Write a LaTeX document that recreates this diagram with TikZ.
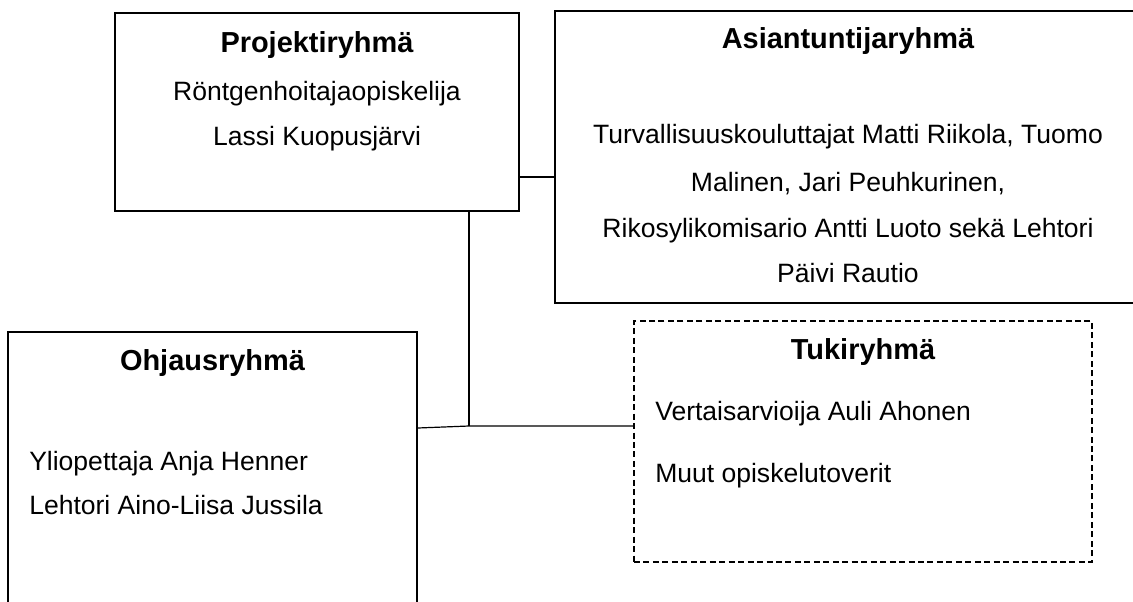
\documentclass[tikz,border=0pt]{standalone}
\usepackage{fontspec}
\setmainfont{Liberation Sans}
\usepackage{tikz}
\usetikzlibrary{positioning}

\tikzset{
  grpbox/.style={draw, rectangle, inner sep=0pt},
  grptitle/.style={font=\bfseries\fontsize{21.7}{26}\selectfont, anchor=base, inner sep=0pt},
  grptext/.style={font=\fontsize{19.9}{24}\selectfont, anchor=base, inner sep=0pt},
  grptextleft/.style={grptext, anchor=base west},
  link/.style={line width=0.9pt}
}

\begin{document}
\begin{tikzpicture}[x=0.75pt,y=0.75pt,yscale=-1,xscale=1]
\useasboundingbox (0,0) rectangle (1133,601);

%Shape: Rectangle [id:proj]
\node (proj) [grpbox, line width=1.6pt, minimum width=303pt, minimum height=148.5pt] at (317,112) {};
%Shape: Rectangle [id:asi]
\node (asi) [grpbox, line width=1.2pt, minimum width=439.5pt, minimum height=219pt] at (848,157) {};
%Shape: Rectangle [id:ohj]
\node (ohj) [grpbox, line width=1.1pt, minimum width=306.75pt, minimum height=216pt] at (212.5,476) {};
%Shape: Rectangle [id:tuk]
\node (tuk) [grpbox, line width=0.9pt, dash pattern=on 4.5pt off 2.6pt, minimum width=343.5pt, minimum height=180.75pt] at (863,441.5) {};

%Straight Lines
\coordinate (pa) at (520,177);
\coordinate (hub) at (469,426);
\draw [link] (proj.east |- pa) -- (asi.west |- pa);
\draw [link] (proj.south -| hub) -- (hub);
\draw [link] ([yshift=1.5pt]ohj.east |- hub) -- (hub) -- (tuk.west |- hub);

% Text Node
\node (projT) [grptitle] at (317,52) {Projektiryhmä};
\node (projA) [grptext] at (317,100) {Röntgenhoitajaopiskelija};
\node (projB) [grptext] at (317,145) {Lassi Kuopusjärvi};
% Text Node
\node (asiT) [grptitle] at (848,48) {Asiantuntijaryhmä};
\node (asiA) [grptext] at (848,143) {Turvallisuuskouluttajat Matti Riikola, Tuomo};
\node (asiB) [grptext] at (848,191) {Malinen, Jari Peuhkurinen,};
\node (asiC) [grptext] at (848,237) {Rikosylikomisario Antti Luoto sekä Lehtori};
\node (asiD) [grptext] at (848,282) {Päivi Rautio};
% Text Node
\node (ohjT) [grptitle] at (212.5,370) {Ohjausryhmä};
\node (ohjA) [grptextleft] at (29,470) {Yliopettaja Anja Henner};
\node (ohjB) [grptextleft] at (29,514) {Lehtori Aino-Liisa Jussila};
% Text Node
\node (tukT) [grptitle] at (863,359) {Tukiryhmä};
\node (tukA) [grptextleft] at (655,420) {Vertaisarvioija Auli Ahonen};
\node (tukB) [grptextleft] at (655,482) {Muut opiskelutoverit};

\end{tikzpicture}
\end{document}
